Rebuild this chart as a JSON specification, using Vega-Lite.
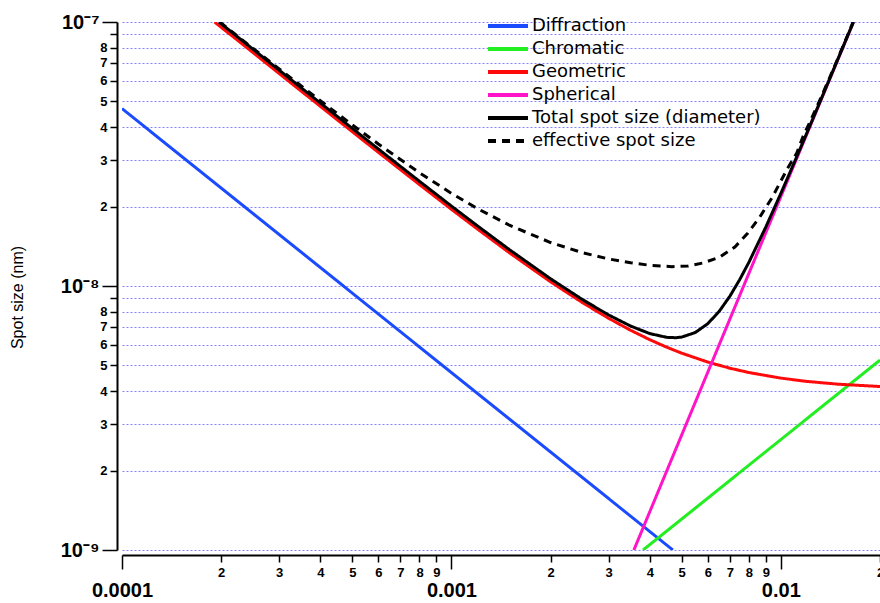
{
  "$schema": "https://vega.github.io/schema/vega-lite/v6.json",
  "width": 758,
  "height": 528,
  "autosize": "none",
  "padding": {"left": 122, "top": 22, "right": 0, "bottom": 53},
  "background": "white",
  "config": {
    "view": {"stroke": null},
    "font": "Liberation Sans",
    "axisY": {"titleFontSize": 16, "titleFont": "Liberation Sans", "titleFontWeight": "normal", "titleColor": "black"}
  },
  "data": {"values": [
    {"series": "Diffraction", "x": 0.0001, "y": 4.7e-8},
    {"series": "Diffraction", "x": 0.001, "y": 4.7e-9},
    {"series": "Diffraction", "x": 0.0047, "y": 1.0e-9},
    {"series": "Chromatic", "x": 0.003817, "y": 1.0e-9},
    {"series": "Chromatic", "x": 0.01, "y": 2.62e-9},
    {"series": "Chromatic", "x": 0.02, "y": 5.24e-9},
    {"series": "Geometric", "x": 0.000191, "y": 1.0e-7},
    {"series": "Geometric", "x": 0.00022, "y": 8.691e-8},
    {"series": "Geometric", "x": 0.00025, "y": 7.651e-8},
    {"series": "Geometric", "x": 0.0003, "y": 6.380e-8},
    {"series": "Geometric", "x": 0.0004, "y": 4.792e-8},
    {"series": "Geometric", "x": 0.0005, "y": 3.842e-8},
    {"series": "Geometric", "x": 0.0006, "y": 3.209e-8},
    {"series": "Geometric", "x": 0.0008, "y": 2.422e-8},
    {"series": "Geometric", "x": 0.001, "y": 1.952e-8},
    {"series": "Geometric", "x": 0.0012, "y": 1.643e-8},
    {"series": "Geometric", "x": 0.0015, "y": 1.336e-8},
    {"series": "Geometric", "x": 0.002, "y": 1.037e-8},
    {"series": "Geometric", "x": 0.0025, "y": 8.647e-9},
    {"series": "Geometric", "x": 0.003, "y": 7.546e-9},
    {"series": "Geometric", "x": 0.0035, "y": 6.796e-9},
    {"series": "Geometric", "x": 0.004, "y": 6.261e-9},
    {"series": "Geometric", "x": 0.0045, "y": 5.866e-9},
    {"series": "Geometric", "x": 0.005, "y": 5.567e-9},
    {"series": "Geometric", "x": 0.006, "y": 5.151e-9},
    {"series": "Geometric", "x": 0.007, "y": 4.883e-9},
    {"series": "Geometric", "x": 0.008, "y": 4.701e-9},
    {"series": "Geometric", "x": 0.01, "y": 4.478e-9},
    {"series": "Geometric", "x": 0.012, "y": 4.351e-9},
    {"series": "Geometric", "x": 0.015, "y": 4.245e-9},
    {"series": "Geometric", "x": 0.02, "y": 4.161e-9},
    {"series": "Spherical", "x": 0.00358, "y": 1.0e-9},
    {"series": "Spherical", "x": 0.00771, "y": 1.0e-8},
    {"series": "Spherical", "x": 0.01662, "y": 1.0e-7},
    {"series": "Total spot size (diameter)", "x": 0.000197, "y": 1.0e-7},
    {"series": "Total spot size (diameter)", "x": 0.00022, "y": 8.950e-8},
    {"series": "Total spot size (diameter)", "x": 0.00025, "y": 7.879e-8},
    {"series": "Total spot size (diameter)", "x": 0.0003, "y": 6.569e-8},
    {"series": "Total spot size (diameter)", "x": 0.0004, "y": 4.934e-8},
    {"series": "Total spot size (diameter)", "x": 0.0005, "y": 3.955e-8},
    {"series": "Total spot size (diameter)", "x": 0.0006, "y": 3.303e-8},
    {"series": "Total spot size (diameter)", "x": 0.0008, "y": 2.492e-8},
    {"series": "Total spot size (diameter)", "x": 0.001, "y": 2.008e-8},
    {"series": "Total spot size (diameter)", "x": 0.0012, "y": 1.689e-8},
    {"series": "Total spot size (diameter)", "x": 0.0015, "y": 1.373e-8},
    {"series": "Total spot size (diameter)", "x": 0.002, "y": 1.065e-8},
    {"series": "Total spot size (diameter)", "x": 0.0025, "y": 8.880e-9},
    {"series": "Total spot size (diameter)", "x": 0.003, "y": 7.769e-9},
    {"series": "Total spot size (diameter)", "x": 0.0035, "y": 7.050e-9},
    {"series": "Total spot size (diameter)", "x": 0.004, "y": 6.605e-9},
    {"series": "Total spot size (diameter)", "x": 0.0045, "y": 6.390e-9},
    {"series": "Total spot size (diameter)", "x": 0.0048, "y": 6.370e-9},
    {"series": "Total spot size (diameter)", "x": 0.005, "y": 6.404e-9},
    {"series": "Total spot size (diameter)", "x": 0.0055, "y": 6.665e-9},
    {"series": "Total spot size (diameter)", "x": 0.006, "y": 7.196e-9},
    {"series": "Total spot size (diameter)", "x": 0.0065, "y": 8.017e-9},
    {"series": "Total spot size (diameter)", "x": 0.007, "y": 9.141e-9},
    {"series": "Total spot size (diameter)", "x": 0.0075, "y": 1.057e-8},
    {"series": "Total spot size (diameter)", "x": 0.008, "y": 1.230e-8},
    {"series": "Total spot size (diameter)", "x": 0.009, "y": 1.671e-8},
    {"series": "Total spot size (diameter)", "x": 0.01, "y": 2.241e-8},
    {"series": "Total spot size (diameter)", "x": 0.011, "y": 2.949e-8},
    {"series": "Total spot size (diameter)", "x": 0.012, "y": 3.804e-8},
    {"series": "Total spot size (diameter)", "x": 0.013, "y": 4.820e-8},
    {"series": "Total spot size (diameter)", "x": 0.014, "y": 6.007e-8},
    {"series": "Total spot size (diameter)", "x": 0.015, "y": 7.379e-8},
    {"series": "Total spot size (diameter)", "x": 0.016, "y": 8.947e-8},
    {"series": "Total spot size (diameter)", "x": 0.01661, "y": 1.0e-7},
    {"series": "effective spot size", "x": 0.000198, "y": 1.0e-7},
    {"series": "effective spot size", "x": 0.00022, "y": 9.006e-8},
    {"series": "effective spot size", "x": 0.00025, "y": 7.942e-8},
    {"series": "effective spot size", "x": 0.0003, "y": 6.645e-8},
    {"series": "effective spot size", "x": 0.0004, "y": 5.034e-8},
    {"series": "effective spot size", "x": 0.0005, "y": 4.079e-8},
    {"series": "effective spot size", "x": 0.0006, "y": 3.451e-8},
    {"series": "effective spot size", "x": 0.0008, "y": 2.685e-8},
    {"series": "effective spot size", "x": 0.001, "y": 2.244e-8},
    {"series": "effective spot size", "x": 0.0012, "y": 1.963e-8},
    {"series": "effective spot size", "x": 0.0015, "y": 1.699e-8},
    {"series": "effective spot size", "x": 0.002, "y": 1.461e-8},
    {"series": "effective spot size", "x": 0.0025, "y": 1.337e-8},
    {"series": "effective spot size", "x": 0.003, "y": 1.266e-8},
    {"series": "effective spot size", "x": 0.0035, "y": 1.224e-8},
    {"series": "effective spot size", "x": 0.004, "y": 1.198e-8},
    {"series": "effective spot size", "x": 0.0045, "y": 1.187e-8},
    {"series": "effective spot size", "x": 0.00467, "y": 1.183e-8},
    {"series": "effective spot size", "x": 0.005221, "y": 1.190e-8},
    {"series": "effective spot size", "x": 0.0058, "y": 1.222e-8},
    {"series": "effective spot size", "x": 0.00653, "y": 1.288e-8},
    {"series": "effective spot size", "x": 0.007252, "y": 1.405e-8},
    {"series": "effective spot size", "x": 0.007941, "y": 1.588e-8},
    {"series": "effective spot size", "x": 0.008637, "y": 1.826e-8},
    {"series": "effective spot size", "x": 0.009392, "y": 2.155e-8},
    {"series": "effective spot size", "x": 0.009931, "y": 2.456e-8},
    {"series": "effective spot size", "x": 0.0105, "y": 2.799e-8},
    {"series": "effective spot size", "x": 0.01118, "y": 3.19e-8},
    {"series": "effective spot size", "x": 0.01166, "y": 3.668e-8},
    {"series": "effective spot size", "x": 0.01225, "y": 4.18e-8},
    {"series": "effective spot size", "x": 0.013, "y": 4.92e-8},
    {"series": "effective spot size", "x": 0.014, "y": 6.07e-8},
    {"series": "effective spot size", "x": 0.015, "y": 7.43e-8},
    {"series": "effective spot size", "x": 0.016, "y": 8.99e-8},
    {"series": "effective spot size", "x": 0.01657, "y": 1.0e-7}
  ]},
  "mark": {"type": "line", "strokeWidth": 3, "clip": true},
  "encoding": {
    "x": {
      "field": "x", "type": "quantitative",
      "scale": {"type": "log", "domain": [0.0001, 0.02], "nice": false},
      "axis": {
        "title": null,
        "values": [0.0001, 0.0002, 0.0003, 0.0004, 0.0005, 0.0006, 0.0007, 0.0008, 0.0009, 0.001, 0.002, 0.003, 0.004, 0.005, 0.006, 0.007, 0.008, 0.009, 0.01, 0.02],
        "offset": 5,
        "grid": false,
        "domainColor": "black", "domainWidth": 2,
        "tickColor": "black", "tickWidth": 1.5,
        "tickSize": {"condition": {"test": "abs(log(datum.value)/LN10 - round(log(datum.value)/LN10)) < 0.001", "value": 14}, "value": 7},
        "labelExpr": "abs(log(datum.value)/LN10 - round(log(datum.value)/LN10)) < 0.001 ? format(datum.value, '.4~f') : toString(round(datum.value / pow(10, floor(log(datum.value)/LN10 + 0.000001))))",
        "labelFont": "Liberation Sans", "labelFontWeight": "bold", "labelColor": "black",
        "labelFontSize": {"condition": {"test": "abs(log(datum.value)/LN10 - round(log(datum.value)/LN10)) < 0.001", "value": 20}, "value": 13},
        "labelPadding": {"condition": {"test": "abs(log(datum.value)/LN10 - round(log(datum.value)/LN10)) < 0.001", "value": 11}, "value": 4},
        "labelFlush": false, "labelOverlap": false, "labelBound": false
      }
    },
    "y": {
      "field": "y", "type": "quantitative",
      "scale": {"type": "log", "domain": [1e-9, 1e-7], "nice": false},
      "axis": {
        "title": "Spot size (nm)",
        "titleFont": "Liberation Sans", "titleFontSize": 16, "titleFontWeight": "normal", "titleColor": "black",
        "titleX": -100, "titleY": 275, "titleBaseline": "middle", "titleAngle": -90, "titleAlign": "center",
        "values": [1e-9, 2e-9, 3e-9, 4e-9, 5e-9, 6e-9, 7e-9, 8e-9, 9e-9, 1e-8, 2e-8, 3e-8, 4e-8, 5e-8, 6e-8, 7e-8, 8e-8, 9e-8, 1e-7],
        "offset": 5,
        "grid": true, "gridColor": "#5a5aff", "gridDash": [2, 2], "gridWidth": 1, "gridOpacity": 0.75,
        "domainColor": "black", "domainWidth": 2,
        "tickColor": "black", "tickWidth": 1.5,
        "tickSize": {"condition": {"test": "abs(log(datum.value)/LN10 - round(log(datum.value)/LN10)) < 0.001", "value": 15}, "value": 7},
        "labelExpr": "abs(log(datum.value)/LN10 - round(log(datum.value)/LN10)) < 0.001 ? (round(log(datum.value)/LN10) == -7 ? '10⁻⁷' : round(log(datum.value)/LN10) == -8 ? '10⁻⁸' : '10⁻⁹') : (round(datum.value / pow(10, floor(log(datum.value)/LN10 + 0.000001))) == 9 ? '' : toString(round(datum.value / pow(10, floor(log(datum.value)/LN10 + 0.000001)))))",
        "labelFont": "Liberation Sans", "labelFontWeight": "bold", "labelColor": "black",
        "labelFontSize": {"condition": {"test": "abs(log(datum.value)/LN10 - round(log(datum.value)/LN10)) < 0.001", "value": 20}, "value": 13},
        "labelPadding": 3,
        "labelOverlap": false, "labelBound": false, "labelFlush": false
      }
    },
    "color": {
      "field": "series", "type": "nominal",
      "scale": {
        "domain": ["Diffraction", "Chromatic", "Geometric", "Spherical", "Total spot size (diameter)", "effective spot size"],
        "range": ["#1a4bff", "#22ee22", "#ff0a0a", "#ff14c8", "#000000", "#000000"]
      },
      "legend": {
        "orient": "none", "legendX": 377, "legendY": -5, "title": null, "padding": 0,
        "symbolType": "M-4,0L4,0", "symbolSize": 100, "symbolStrokeWidth": 4,
        "labelFont": "DejaVu Sans", "labelFontSize": 18, "labelColor": "black",
        "labelOffset": 15, "rowPadding": 5, "labelLimit": 400
      }
    },
    "strokeDash": {
      "field": "series", "type": "nominal",
      "scale": {
        "domain": ["Diffraction", "Chromatic", "Geometric", "Spherical", "Total spot size (diameter)", "effective spot size"],
        "range": [[1, 0], [1, 0], [1, 0], [1, 0], [1, 0], [8, 6]]
      },
      "legend": {
        "orient": "none", "legendX": 377, "legendY": -5, "title": null, "padding": 0,
        "symbolType": "M-4,0L4,0", "symbolSize": 100, "symbolStrokeWidth": 4,
        "labelFont": "DejaVu Sans", "labelFontSize": 18, "labelColor": "black",
        "labelOffset": 15, "rowPadding": 5, "labelLimit": 400
      }
    }
  }
}
